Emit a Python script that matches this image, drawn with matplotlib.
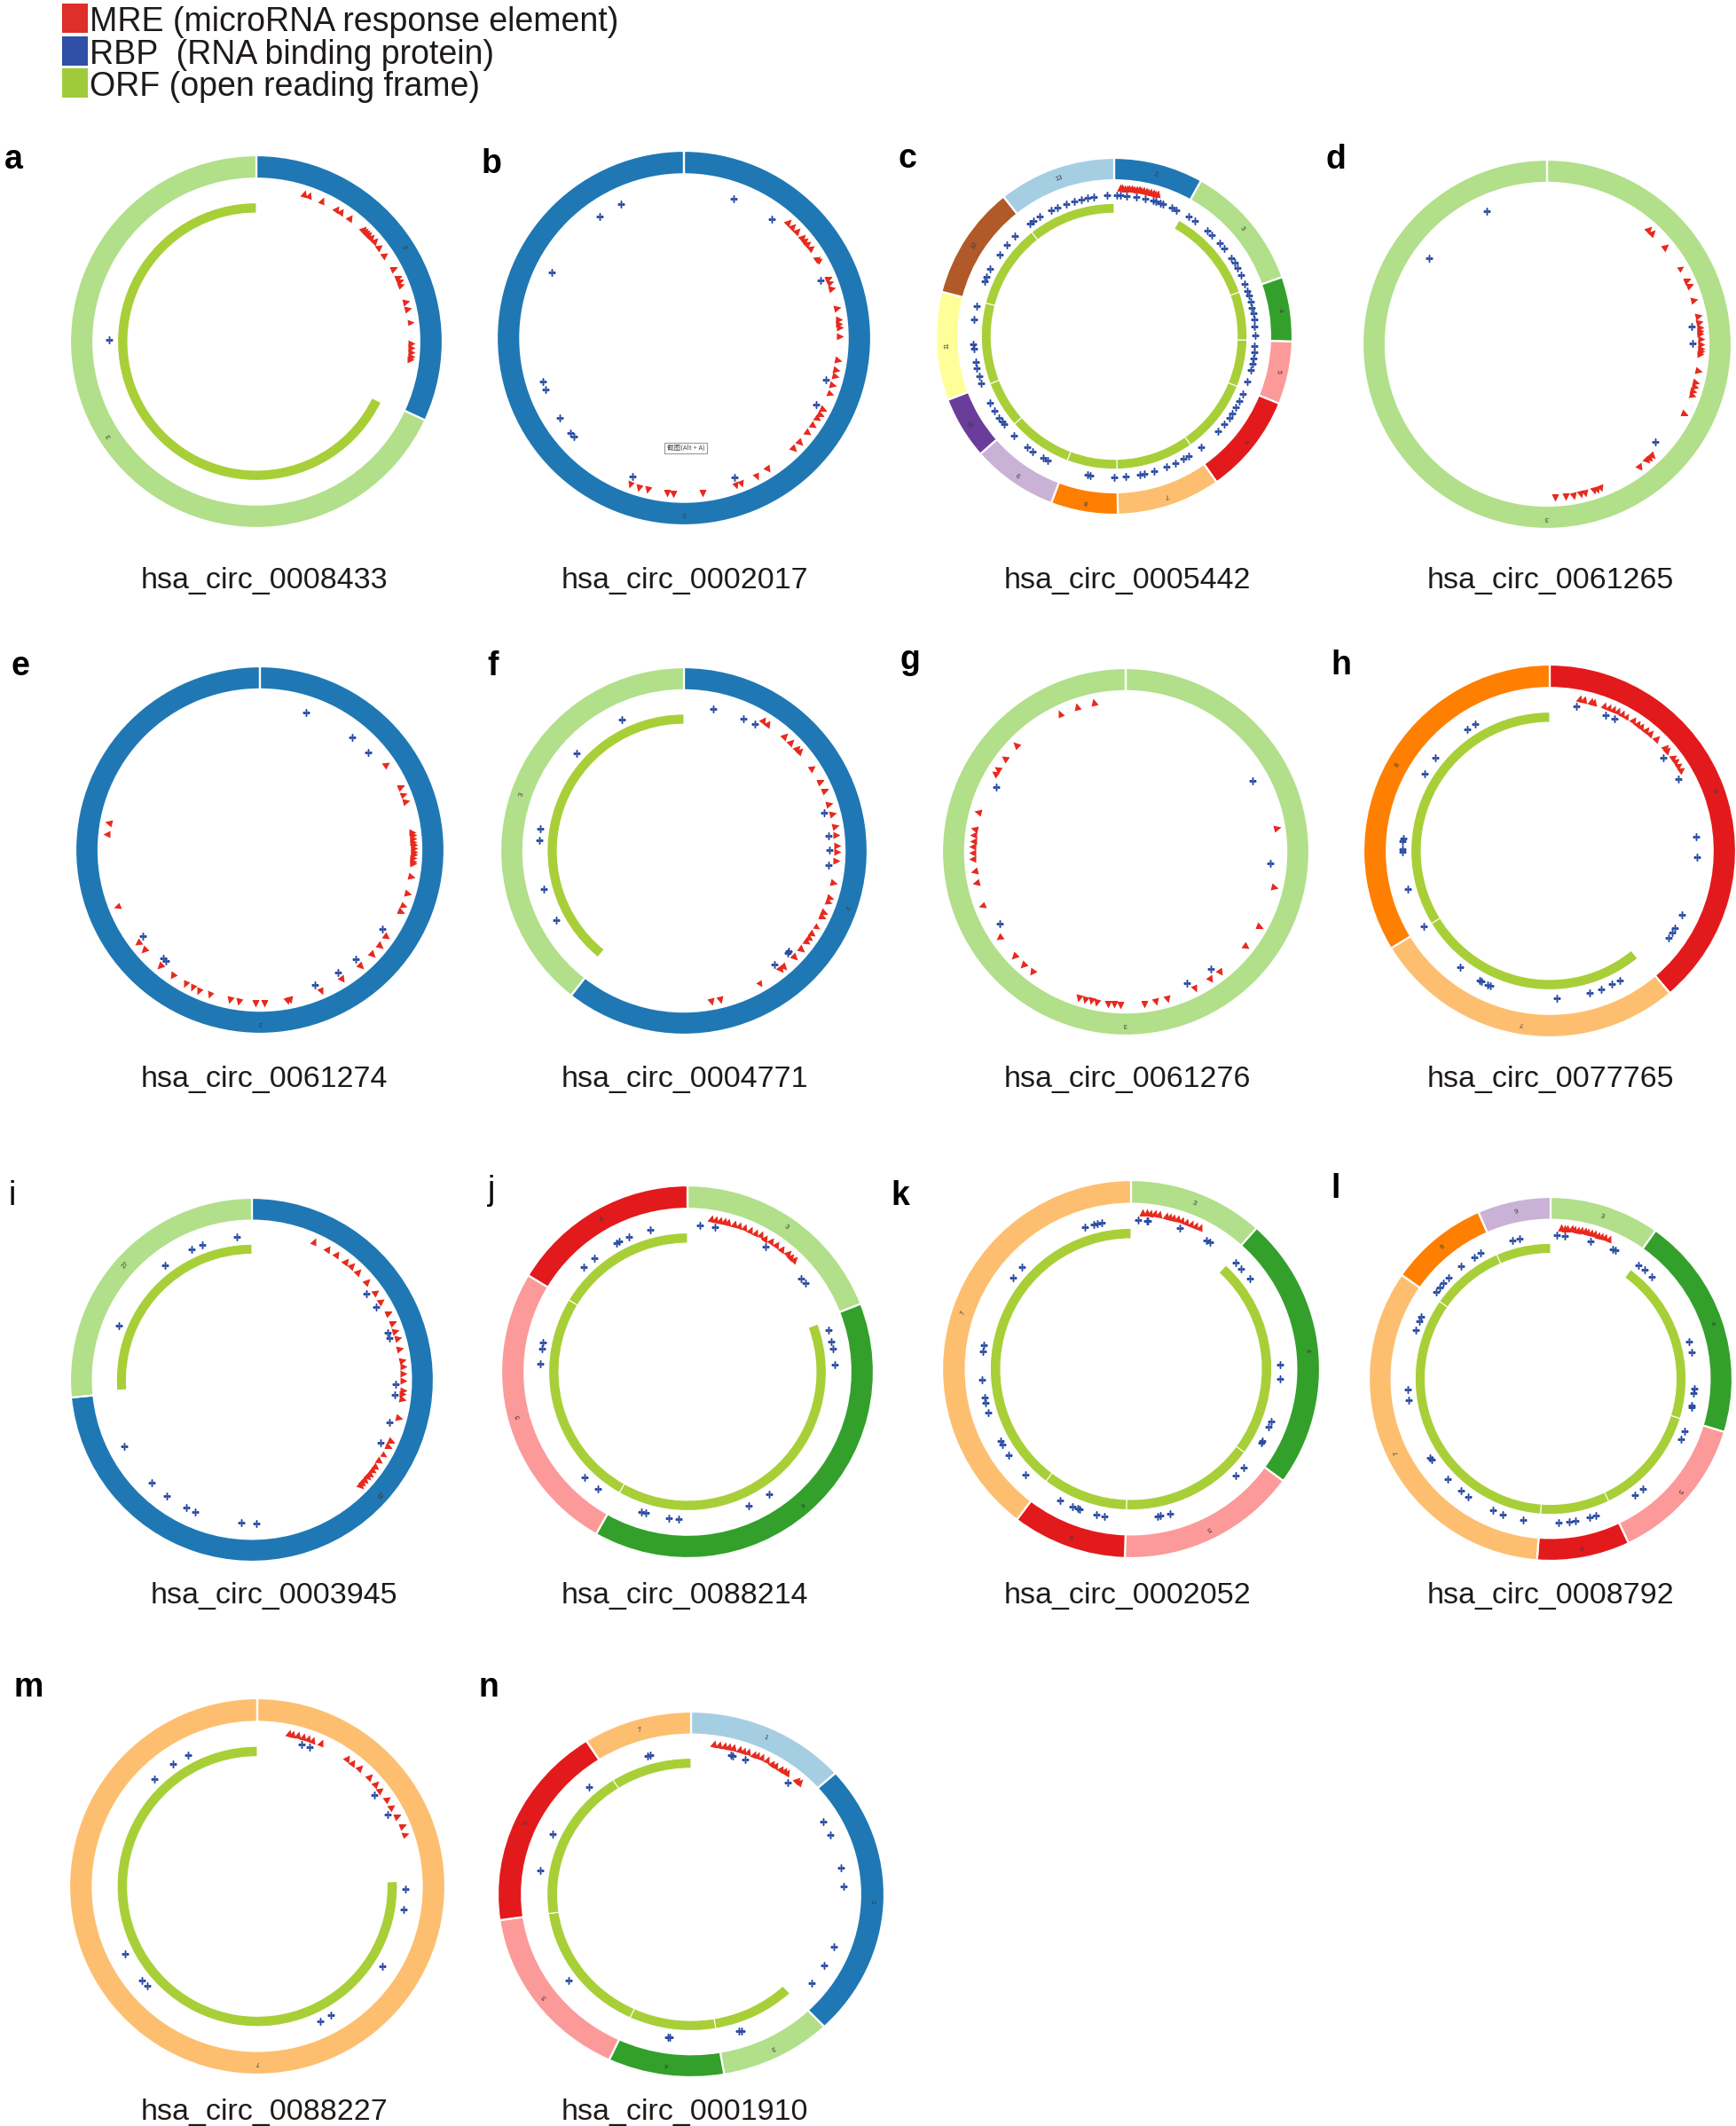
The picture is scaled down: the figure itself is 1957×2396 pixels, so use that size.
import matplotlib
matplotlib.use("Agg")
import matplotlib.pyplot as plt
import numpy as np
from matplotlib.markers import MarkerStyle
from matplotlib.patches import Rectangle
from matplotlib.transforms import Affine2D

plt.rcParams['font.family'] = ['Liberation Sans', 'DejaVu Sans']

# ---------------- data ----------------
# all angles in degrees, clockwise from 12 o'clock
panels = ['a', 'b', 'c', 'd', 'e', 'f', 'g', 'h', 'i', 'j', 'k', 'l', 'm', 'n']

circ_ids = {'a': 'hsa_circ_0008433', 'b': 'hsa_circ_0002017', 'c': 'hsa_circ_0005442',
            'd': 'hsa_circ_0061265', 'e': 'hsa_circ_0061274', 'f': 'hsa_circ_0004771',
            'g': 'hsa_circ_0061276', 'h': 'hsa_circ_0077765', 'i': 'hsa_circ_0003945',
            'j': 'hsa_circ_0088214', 'k': 'hsa_circ_0002052', 'l': 'hsa_circ_0008792',
            'm': 'hsa_circ_0088227', 'n': 'hsa_circ_0001910'}

exons = {'a': [2, 3], 'b': [2], 'c': [2, 3, 4, 5, 6, 7, 8, 9, 10, 11, 12, 13], 'd': [3],
         'e': [2], 'f': [2, 3], 'g': [3], 'h': [6, 7, 8], 'i': [26, 27],
         'j': [3, 4, 5, 6], 'k': [3, 4, 5, 6, 7], 'l': [3, 4, 5, 6, 7, 8, 9], 'm': [7],
         'n': [1, 2, 3, 4, 5, 6, 7]}

exon_spans = {'a': [115.0, 245.0], 'b': [360.0],
              'c': [29.2, 41.4, 21.1, 20.5, 32.7, 33.9, 21.9, 28.0, 20.4, 35.4, 37.1, 38.4],
              'd': [360.0], 'e': [360.0], 'f': [218.0, 142.0], 'g': [360.0],
              'h': [139.8, 98.7, 121.5], 'i': [264.4, 95.6],
              'j': [68.6, 140.8, 91.8, 58.8], 'k': [41.7, 84.6, 55.6, 35.3, 142.8],
              'l': [35.3, 71.7, 47.6, 29.7, 120.6, 31.7, 23.4], 'm': [360.0],
              'n': [48.4, 88.0, 33.7, 35.0, 56.8, 65.3, 32.8]}

# ORF runs clockwise from this angle back to the top; None = no ORF drawn
orf_start = {'a': 116.0, 'b': None, 'c': 29.2, 'd': None, 'e': None, 'f': 219.0, 'g': None,
             'h': 140.7, 'i': 265.5, 'j': 69.9, 'k': 42.4, 'l': 36.2, 'm': 88.0, 'n': 136.6}

mre_pos = {
    'a': [17.8, 20.1, 24.9, 31.4, 33.2, 37.2, 43.5, 44.5, 45.4, 46.5, 47.7, 49.6, 52.4, 56.0,
          62.0, 65.6, 67.1, 68.5, 75.0, 77.8, 82.9, 90.6, 92.2, 93.9, 95.5, 96.6],
    'b': [42.0, 44.5, 46.6, 49.7, 51.2, 52.7, 54.7, 59.2, 60.2, 67.5, 69.2, 71.5, 78.9, 83.2,
          84.9, 86.0, 89.2, 98.3, 101.8, 104.0, 107.4, 110.9, 117.0, 119.1, 121.1, 124.2,
          127.4, 131.9, 135.4, 147.4, 152.1, 158.5, 160.3, 173.0, 184.0, 186.2, 193.4,
          196.7, 200.1],
    'c': [2.3, 3.1, 4.0, 5.0, 5.9, 6.8, 7.6, 8.6, 9.5, 10.4, 11.3, 12.3, 13.2, 14.2, 15.1,
          16.0, 16.9],
    'd': [41.5, 43.3, 50.6, 60.2, 65.5, 67.6, 73.1, 79.4, 81.6, 83.8, 84.9, 86.0, 88.0, 89.9,
          91.5, 92.6, 93.7, 99.8, 104.3, 106.0, 107.8, 109.6, 116.8, 136.6, 138.0, 139.2,
          142.9, 159.3, 161.0, 162.3, 165.7, 167.4, 170.2, 173.1, 176.9],
    'e': [55.7, 65.9, 68.6, 71.6, 83.3, 84.5, 85.7, 86.9, 88.1, 89.3, 90.6, 91.8, 93.0, 94.2,
          95.1, 100.1, 106.3, 111.2, 113.4, 124.4, 128.7, 132.9, 139.1, 147.6, 156.7, 168.7,
          169.8, 178.4, 181.6, 188.0, 191.3, 199.0, 203.5, 206.0, 209.1, 214.7, 220.6, 229.2,
          232.4, 248.3, 276.1, 280.3],
    'f': [31.3, 33.3, 41.1, 44.6, 47.9, 49.1, 57.1, 63.3, 66.8, 72.1, 76.0, 80.8, 83.9, 87.9,
          90.4, 93.7, 102.1, 107.7, 109.5, 113.7, 115.4, 119.8, 122.9, 125.0, 126.4, 129.9,
          133.8, 139.2, 140.8, 150.1, 166.4, 169.6],
    'g': [81.1, 103.4, 119.1, 128.1, 141.7, 146.2, 153.0, 164.3, 168.6, 173.1, 182.0, 184.2,
          186.7, 190.9, 193.2, 195.4, 197.8, 217.9, 222.3, 227.0, 235.9, 249.4, 258.3, 262.8,
          267.2, 269.7, 271.9, 274.1, 276.3, 278.5, 285.1, 300.9, 303.1, 307.7, 314.2, 334.6,
          341.3, 348.1],
    'h': [11.1, 12.7, 15.4, 16.7, 20.8, 22.5, 24.2, 26.0, 28.0, 29.8, 32.7, 34.7, 36.5, 38.4,
          40.7, 43.8, 48.1, 49.5, 52.9, 54.6, 56.5, 58.2],
    'i': [24.2, 30.0, 34.1, 38.4, 41.2, 44.5, 49.5, 54.7, 58.6, 64.1, 67.9, 71.2, 74.0, 78.1,
          82.6, 85.0, 87.7, 90.5, 93.9, 95.5, 97.3, 104.6, 113.6, 115.9, 119.8, 122.6, 125.3,
          126.8, 128.5, 130.0, 131.6, 133.0, 134.3],
    'j': [8.9, 10.5, 12.1, 13.7, 15.3, 17.5, 19.6, 21.8, 23.9, 26.1, 28.2, 30.3, 32.7, 35.0,
          37.7, 40.4, 42.0, 43.7],
    'k': [4.3, 5.9, 7.2, 8.6, 10.3, 13.0, 14.4, 15.8, 17.5, 19.1, 20.8, 22.5, 24.2, 26.1],
    'l': [4.0, 5.2, 6.5, 7.9, 9.1, 10.4, 11.8, 13.0, 14.3, 15.7, 17.0, 18.4, 19.8, 21.2, 22.6],
    'm': [11.6, 13.0, 15.1, 17.0, 19.0, 21.0, 24.0, 35.0, 37.5, 41.0, 45.7, 49.0, 52.0, 56.0,
          59.3, 63.4, 67.5, 70.5],
    'n': [8.3, 10.0, 12.1, 13.8, 15.3, 17.6, 19.2, 20.9, 23.1, 24.5, 26.0, 28.2, 30.5, 32.0,
          34.1, 35.5, 36.9, 41.3, 42.6],
}

rbp_pos = {
    'a': [270.8],
    'b': [19.7, 36.3, 67.1, 106.4, 116.8, 160.1, 200.3, 228.2, 230.2, 237.3, 249.8, 253.0,
          296.4, 325.2, 334.6],
    'c': [1.2, 2.4, 5.1, 9.1, 12.8, 15.9, 17.3, 19.1, 20.3, 24.3, 26.3, 31.9, 34.8, 41.4, 44.0,
          48.4, 51.4, 56.4, 58.6, 61.1, 64.4, 68.1, 71.3, 73.2, 75.7, 78.2, 80.7, 83.1, 86.1,
          89.8, 94.0, 96.4, 98.9, 101.3, 103.8, 108.8, 114.2, 117.4, 120.1, 123.2, 125.3,
          128.4, 132.3, 142.1, 147.9, 150.6, 154.1, 158.2, 163.4, 167.8, 169.6, 175.4, 180.0,
          189.7, 190.9, 208.3, 210.3, 215.3, 218.3, 225.2, 231.2, 232.8, 234.8, 238.0, 241.9,
          250.6, 253.7, 256.8, 259.4, 264.8, 266.6, 276.9, 282.4, 293.0, 295.1, 298.5, 305.4,
          310.3, 315.2, 323.3, 325.2, 328.1, 333.5, 336.3, 340.3, 343.4, 346.6, 349.1, 351.5,
          357.0],
    'd': [83.1, 89.5, 131.8, 306.0, 335.5],
    'e': [18.6, 39.3, 47.9, 122.9, 138.8, 147.7, 157.9, 220.2, 221.5, 233.6],
    'f': [11.7, 24.2, 29.2, 74.6, 84.0, 89.6, 95.7, 133.7, 134.5, 141.4, 241.7, 254.9, 274.2,
          278.7, 312.2, 334.8],
    'g': [60.8, 94.5, 144.0, 155.2, 240.4, 296.5],
    'h': [10.3, 22.4, 26.2, 50.6, 60.7, 84.3, 92.5, 115.8, 121.5, 123.6, 126.3, 151.5, 155.0,
          159.7, 164.1, 177.2, 203.8, 204.8, 207.6, 208.5, 217.7, 239.1, 255.1, 269.8, 270.7,
          273.8, 274.8, 301.6, 309.2, 325.7, 329.6],
    'i': [53.0, 59.7, 70.8, 73.2, 91.8, 96.0, 107.1, 116.1, 178.3, 184.4, 203.4, 207.2, 216.2,
          224.3, 242.5, 292.0, 322.7, 335.2, 339.9, 354.0],
    'j': [4.9, 10.6, 32.0, 50.6, 53.1, 73.5, 78.3, 80.9, 87.4, 146.3, 155.4, 183.6, 187.4,
          196.6, 198.3, 217.3, 224.3, 273.2, 279.1, 281.3, 315.2, 320.6, 331.2, 332.5, 336.7,
          345.3],
    'k': [2.8, 6.0, 6.5, 19.2, 30.4, 31.8, 44.5, 47.7, 52.8, 88.2, 93.8, 110.4, 112.9, 118.7,
          119.4, 131.1, 135.3, 165.0, 168.6, 169.8, 190.2, 193.4, 200.2, 201.0, 203.2, 208.5,
          224.8, 234.8, 239.5, 241.1, 252.9, 256.8, 259.1, 265.9, 276.9, 279.2, 307.7, 313.1,
          341.9, 345.4, 346.8, 348.8],
    'l': [2.5, 5.5, 16.3, 25.8, 26.6, 37.7, 40.8, 44.8, 74.9, 79.4, 93.8, 95.6, 100.6, 101.5,
          111.4, 114.8, 140.1, 144.0, 161.6, 164.4, 170.1, 172.5, 176.9, 190.9, 199.4, 203.7,
          215.0, 218.8, 225.8, 235.9, 236.8, 261.3, 265.6, 290.0, 293.7, 295.7, 307.1, 309.4,
          311.8, 314.7, 321.4, 328.0, 330.9, 344.6, 347.6],
    'm': [17.4, 20.6, 51.9, 61.1, 91.1, 98.9, 122.7, 150.1, 155.0, 227.9, 230.9, 243.2, 316.1,
          325.4, 332.2],
    'n': [15.1, 16.0, 20.6, 39.3, 59.8, 65.5, 79.3, 87.0, 111.2, 119.6, 127.7, 160.8, 161.6,
          188.0, 188.6, 233.5, 279.5, 294.7, 318.0, 343.4, 344.4],
}

legend_labels = ['MRE (microRNA response element)', 'RBP  (RNA binding protein)',
                 'ORF (open reading frame)']
legend_colors = ['#de2f28', '#2f50a6', '#9fcb3b']

# ---------------- layout (pixels, origin top-left) ----------------
W, H = 1957, 2396
geom = {'a': (289, 385, 210, 210), 'b': (771, 381, 211, 211), 'c': (1256, 379, 201, 201),
        'd': (1744, 388, 208, 208), 'e': (293, 958, 208, 207), 'f': (771, 959, 207, 207),
        'g': (1269, 960, 207, 207), 'h': (1747, 959, 210, 210), 'i': (284, 1555, 205, 205),
        'j': (775, 1546, 210, 210), 'k': (1275, 1543, 213, 213), 'l': (1748, 1554, 205, 205),
        'm': (290, 2126, 212, 212), 'n': (779, 2135, 218, 206)}
title_xy = {'a': (298, 663), 'b': (772, 663), 'c': (1271, 663), 'd': (1748, 663),
            'e': (298, 1225), 'f': (772, 1225), 'g': (1271, 1225), 'h': (1748, 1225),
            'i': (309, 1807), 'j': (772, 1807), 'k': (1271, 1807), 'l': (1748, 1807),
            'm': (298, 2389), 'n': (772, 2389)}
letter_xy = {'a': (5, 190), 'b': (543, 195), 'c': (1013, 189), 'd': (1495, 190),
             'e': (13, 761), 'f': (549, 761), 'g': (1015, 754), 'h': (1500, 760),
             'i': (10, 1358), 'j': (550, 1352), 'k': (1004, 1358), 'l': (1500, 1350),
             'm': (15, 1912), 'n': (540, 1912)}

paired = plt.get_cmap('Paired').colors
orf_color = '#a8cf38'
mre_color = '#e8291e'
rbp_color = '#2b4ca3'
R_IN, R_OUT = 0.875, 1.0
ORF_IN, ORF_OUT = 0.69, 0.745
R_MRE, R_RBP = 0.835, 0.79
PAD = 1.03

fig = plt.figure(figsize=(W / 100, H / 100), dpi=100)

for p in panels:
    cx, cy, rx, ry = geom[p]
    ax = fig.add_axes([(cx - rx * PAD) / W, 1 - (cy + ry * PAD) / H,
                       2 * rx * PAD / W, 2 * ry * PAD / H], projection='polar')
    ax.set_theta_zero_location('N')
    ax.set_theta_direction(-1)
    ax.set_aspect('auto')
    ax.set_ylim(0, PAD)
    ax.set_axis_off()

    spans = np.array(exon_spans[p])
    starts = np.concatenate([[0.0], np.cumsum(spans)[:-1]])
    ax.bar(np.deg2rad(starts), R_OUT - R_IN, width=np.deg2rad(spans), bottom=R_IN,
           align='edge', color=[paired[(e - 1) % 12] for e in exons[p]],
           edgecolor='white', linewidth=1.6)
    for e, s0, w in zip(exons[p], starts, spans):
        mid = s0 + w / 2
        ax.text(np.deg2rad(mid), (R_IN + R_OUT) / 2, str(e), rotation=-mid,
                ha='center', va='center', fontsize=5.5, color='#3a3a3a')

    if orf_start[p] is not None:
        seg_a = np.maximum(starts, orf_start[p])
        seg_b = starts + spans
        keep = seg_b > seg_a
        ax.bar(np.deg2rad(seg_a[keep]), ORF_OUT - ORF_IN,
               width=np.deg2rad((seg_b - seg_a)[keep]), bottom=ORF_IN, align='edge',
               color=orf_color, edgecolor='white', linewidth=0.8)

    th = np.deg2rad(rbp_pos[p])
    ax.plot(th, np.full(len(th), R_RBP), linestyle='none', marker='P', ms=5.5,
            color=rbp_color, mec='none')
    for t in mre_pos[p]:
        mk = MarkerStyle('^', transform=Affine2D().rotate_deg(-t))
        ax.plot(np.deg2rad(t), R_MRE, linestyle='none', marker=mk, ms=5.8,
                color=mre_color, mec='none')

    x, y = title_xy[p]
    fig.text(x / W, 1 - y / H, circ_ids[p], ha='center', va='baseline', fontsize=24.5,
             color='#1e1a1a')
    x, y = letter_xy[p]
    fig.text(x / W, 1 - y / H, p, ha='left', va='baseline', fontsize=27,
             fontweight='normal' if p in 'ij' else 'bold', color='black')

# screenshot tooltip left in panel b
fig.text(773 / W, 1 - 505 / H, '截图(Alt + A)', ha='center', va='center', fontsize=5.5,
         family=['Noto Sans CJK SC', 'DejaVu Sans'], color='#444444',
         bbox=dict(boxstyle='square,pad=0.3', fc='white', ec='#999999', lw=0.8))

# legend
for k, (lab, col) in enumerate(zip(legend_labels, legend_colors)):
    top = 4 + k * 36.5
    fig.add_artist(Rectangle((70 / W, 1 - (top + 33) / H), 29 / W, 33 / H,
                             transform=fig.transFigure, color=col, lw=0))
    fig.text(101 / W, 1 - (top + 31) / H, lab, ha='left', va='baseline', fontsize=27,
             color='#1e1a1a')

fig.savefig('out.png', dpi=100)
